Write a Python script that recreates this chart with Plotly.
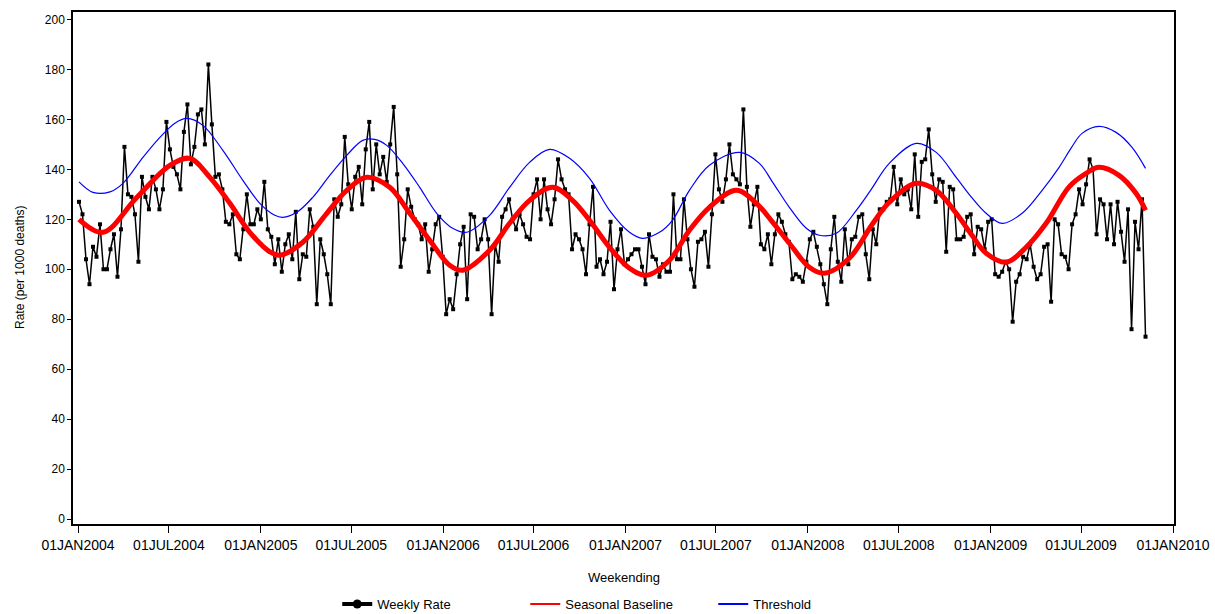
import pandas as pd
import plotly.graph_objects as go

# Weekly rate (per 1000 deaths), weeks ending from 03JAN2004
week_start = "2004-01-03"
weekly_rate = [
    127, 122, 104, 94, 109, 105, 118, 100, 100, 108, 114, 97, 116, 149, 130, 129, 122, 103, 137, 129,
    124, 137, 132, 124, 132, 159, 148, 141, 138, 132, 155, 166, 142, 149, 162, 164, 150, 182, 158, 137,
    138, 132, 119, 118, 122, 106, 104, 116, 130, 118, 118, 124, 120, 135, 116, 113, 102, 112, 99, 110,
    114, 104, 123, 96, 106, 105, 124, 117, 86, 112, 106, 98, 86, 128, 121, 126, 153, 134, 124, 137,
    141, 126, 148, 159, 132, 150, 138, 145, 135, 150, 165, 138, 101, 112, 132, 125, 120, 118, 112, 118,
    99, 108, 118, 121, 105, 82, 88, 84, 98, 110, 117, 88, 122, 121, 108, 112, 120, 112, 82, 110,
    103, 121, 124, 128, 120, 116, 122, 118, 113, 112, 130, 136, 120, 136, 124, 118, 128, 144, 136, 132,
    130, 108, 114, 112, 108, 98, 118, 133, 101, 104, 98, 103, 119, 92, 108, 116, 102, 104, 106, 108,
    108, 101, 94, 114, 105, 104, 97, 102, 99, 99, 130, 104, 104, 128, 112, 100, 93, 111, 112, 115,
    101, 122, 146, 132, 127, 136, 150, 138, 136, 134, 164, 133, 117, 126, 133, 110, 108, 114, 102, 114,
    122, 119, 114, 111, 96, 98, 97, 95, 103, 112, 115, 109, 102, 94, 86, 108, 121, 103, 95, 116,
    102, 112, 113, 121, 122, 106, 96, 116, 110, 124, 124, 127, 128, 141, 126, 136, 130, 132, 124, 146,
    121, 143, 144, 156, 138, 127, 136, 135, 107, 133, 132, 112, 112, 113, 121, 122, 106, 117, 116, 108,
    119, 120, 98, 97, 99, 103, 100, 79, 95, 98, 105, 104, 110, 101, 96, 98, 109, 110, 87, 120,
    118, 106, 105, 100, 118, 122, 132, 126, 134, 144, 140, 114, 128, 126, 112, 126, 110, 127, 115, 103,
    124, 76, 119, 108, 128, 73,
]

baseline_dates = [
    "2004-01-03", "2004-02-20", "2004-04-28", "2004-07-03", "2004-08-12", "2004-09-21", "2004-10-31",
    "2004-12-10", "2005-01-19", "2005-02-08", "2005-03-26", "2005-05-13", "2005-06-22", "2005-08-01",
    "2005-09-16", "2005-10-26", "2005-12-05", "2006-01-14", "2006-02-09", "2006-04-04", "2006-05-14",
    "2006-06-23", "2006-08-08", "2006-09-17", "2006-10-21", "2006-11-30", "2007-01-09", "2007-02-12",
    "2007-03-30", "2007-05-09", "2007-06-18", "2007-08-11", "2007-09-20", "2007-10-22", "2007-11-25",
    "2008-01-04", "2008-02-03", "2008-03-24", "2008-05-09", "2008-06-12", "2008-08-05", "2008-09-14",
    "2008-10-24", "2008-11-25", "2008-12-23", "2009-02-01", "2009-03-13", "2009-04-22", "2009-06-07",
    "2009-07-11", "2009-08-06", "2009-09-15", "2009-10-19", "2009-11-07",
]
baseline_values = [
    120, 114.8, 128.8, 141.6, 144.4, 136.8, 126.4,
    114.8, 107, 105.6, 110.8, 122.4, 131.6, 136.8,
    132.8, 122.4, 111.6, 101.6, 99.6, 107.6, 118.4,
    127.6, 132.8, 127.6, 119.6, 108.8, 100.4, 97.6,
    103.6, 115.6, 124.8, 131.6, 126.4, 119, 110.4,
    100.8, 98.4, 104.4, 118, 126.8, 134.4, 131.6,
    122.4, 113.5, 106.4, 102.8, 108.8, 118.4, 133,
    138.4, 140.8, 137.6, 130.4, 123.6,
]

threshold_dates = [
    "2004-01-03", "2004-01-31", "2004-03-05", "2004-03-31", "2004-05-10", "2004-06-13", "2004-07-13",
    "2004-08-06", "2004-09-07", "2004-10-17", "2004-11-26", "2004-12-30", "2005-01-29", "2005-02-14",
    "2005-03-14", "2005-04-15", "2005-05-19", "2005-06-22", "2005-07-24", "2005-08-17", "2005-09-10",
    "2005-10-12", "2005-11-15", "2005-12-19", "2006-01-20", "2006-02-17", "2006-04-04", "2006-05-14",
    "2006-06-23", "2006-08-02", "2006-09-11", "2006-10-21", "2006-11-30", "2007-01-09", "2007-02-04",
    "2007-03-10", "2007-04-05", "2007-05-09", "2007-06-18", "2007-08-17", "2007-09-26", "2007-10-22",
    "2007-11-25", "2007-12-29", "2008-01-24", "2008-02-27", "2008-04-07", "2008-05-07", "2008-06-12",
    "2008-08-05", "2008-09-14", "2008-10-24", "2008-11-23", "2008-12-23", "2009-01-24", "2009-03-05",
    "2009-04-14", "2009-05-18", "2009-06-11", "2009-07-03", "2009-08-06", "2009-09-09", "2009-10-11",
    "2009-11-07",
]
threshold_values = [
    135, 130.8, 131, 134.4, 144.8, 152.8, 158.5,
    160.4, 157.6, 147.6, 135.6, 126.4, 121.6, 120.8,
    122.8, 128.8, 137.6, 145.6, 151.6, 152, 149.6,
    142.4, 132.8, 122.4, 116.4, 114.8, 121.6, 132.8,
    142.8, 148, 144.4, 136.4, 123.6, 114.8, 112.4,
    114.8, 119.6, 131.6, 141.6, 146.8, 142.4, 135,
    124.8, 116.4, 113.6, 114.4, 123.6, 132, 142.4,
    150.4, 146.8, 136.8, 129, 122.4, 118.4, 122.4,
    131.6, 140.8, 148.5, 154.4, 157.2, 154.8, 148.8,
    140.4,
]

tick_dates = [
    "2004-01-01", "2004-07-01", "2005-01-01", "2005-07-01", "2006-01-01", "2006-07-01", "2007-01-01",
    "2007-07-01", "2008-01-01", "2008-07-01", "2009-01-01", "2009-07-01", "2010-01-01",
]
tick_labels = [
    "01JAN2004", "01JUL2004", "01JAN2005", "01JUL2005", "01JAN2006", "01JUL2006", "01JAN2007",
    "01JUL2007", "01JAN2008", "01JUL2008", "01JAN2009", "01JUL2009", "01JAN2010",
]
y_ticks = [0, 20, 40, 60, 80, 100, 120, 140, 160, 180, 200]

weekly_dates = pd.date_range(week_start, periods=len(weekly_rate), freq="7D")

FONT = "Liberation Sans"

fig = go.Figure()
fig.add_trace(go.Scatter(
    x=weekly_dates, y=weekly_rate, mode="lines+markers", name="Weekly Rate",
    line=dict(color="black", width=1.5),
    marker=dict(color="black", size=4, symbol="square"),
    legendgroup="w", showlegend=False,
))
fig.add_trace(go.Scatter(
    x=baseline_dates, y=baseline_values, mode="lines", name="Seasonal Baseline",
    line=dict(color="#FF0000", width=5, shape="spline", smoothing=1.0),
    legendgroup="b", showlegend=False,
))
fig.add_trace(go.Scatter(
    x=threshold_dates, y=threshold_values, mode="lines", name="Threshold",
    line=dict(color="#0000FF", width=1.2, shape="spline", smoothing=1.0),
    legendgroup="t", showlegend=False,
))
# legend entries (styled like the reference legend)
fig.add_trace(go.Scatter(
    x=[None], y=[None], mode="lines+markers", name="Weekly Rate", legendgroup="w",
    line=dict(color="black", width=4), marker=dict(color="black", size=9, symbol="circle"),
))
fig.add_trace(go.Scatter(
    x=[None], y=[None], mode="lines", name="Seasonal Baseline", legendgroup="b",
    line=dict(color="#FF0000", width=2),
))
fig.add_trace(go.Scatter(
    x=[None], y=[None], mode="lines", name="Threshold", legendgroup="t",
    line=dict(color="#0000FF", width=2),
))

fig.update_layout(
    width=1215, height=614,
    margin=dict(l=73, r=41, t=12, b=90, autoexpand=False),
    paper_bgcolor="white", plot_bgcolor="white",
    font=dict(family=FONT, color="black", size=12),
    showlegend=True,
    legend=dict(
        orientation="h", x=0.24, xanchor="left", y=(524 - 604) / 512, yanchor="middle",
        font=dict(family=FONT, size=13, color="black"),
        entrywidth=143, entrywidthmode="pixels",
        bgcolor="rgba(0,0,0,0)", tracegroupgap=0,
    ),
    xaxis=dict(
        type="date", range=["2003-12-22", "2010-01-03"], automargin=False,
        tickmode="array", tickvals=tick_dates, ticktext=tick_labels,
        ticks="outside", ticklen=7, tickwidth=1, tickcolor="black",
        showline=True, linecolor="black", linewidth=1.5, mirror=True,
        showgrid=False, zeroline=False,
        tickfont=dict(family=FONT, size=14),
    ),
    yaxis=dict(
        range=[-2, 203], tickmode="array", tickvals=y_ticks, automargin=False,
        ticks="outside", ticklen=4, tickwidth=1, tickcolor="black",
        showline=True, linecolor="black", linewidth=1.5, mirror=True,
        showgrid=False, zeroline=False,
        tickfont=dict(family=FONT, size=12),
    ),
    annotations=[
        dict(text="Weekending", xref="paper", yref="paper", x=0.5, y=(524 - 577) / 512,
             xanchor="center", yanchor="middle", showarrow=False,
             font=dict(family=FONT, size=13, color="black")),
        dict(text="Rate (per 1000 deaths)", xref="paper", yref="paper", x=(20 - 73) / 1101,
             y=0.5, xanchor="center", yanchor="middle", textangle=-90, showarrow=False,
             font=dict(family=FONT, size=12, color="black")),
    ],
)

fig.write_html("out.html")
